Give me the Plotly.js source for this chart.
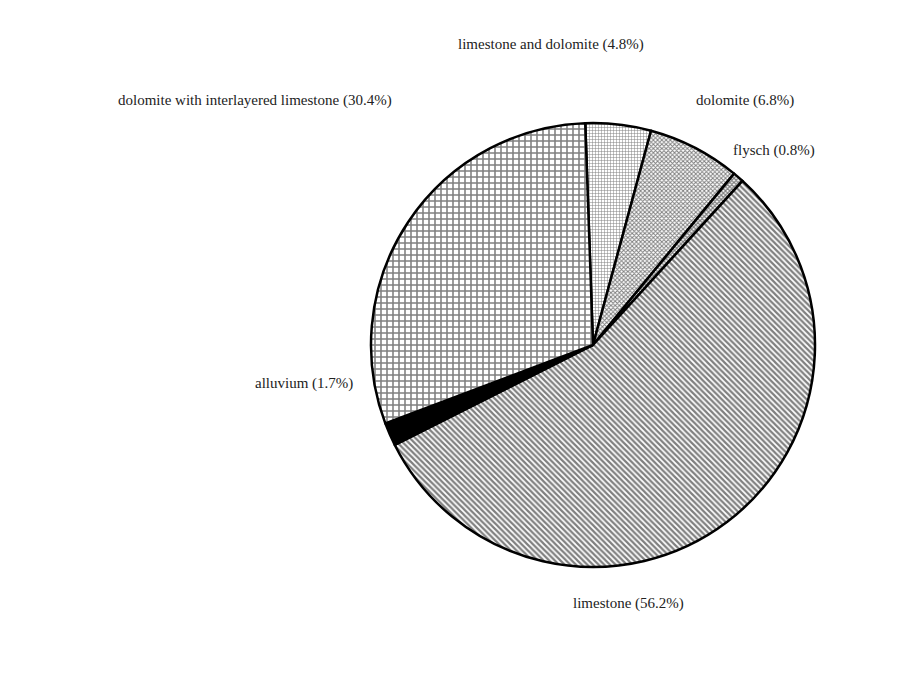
<!DOCTYPE html>
<html>
<head>
<meta charset="utf-8">
<script src="https://cdn.plot.ly/plotly-3.0.1.min.js"></script>
<style>
  html, body { margin: 0; padding: 0; background: #fff; }
  #chart { width: 917px; height: 680px; }
</style>
</head>
<body>
<div id="chart"></div>
<script>
// rock types, clockwise from 12 o'clock
var rockTypes = ['limestone and dolomite', 'dolomite', 'flysch', 'limestone', 'alluvium', 'dolomite with interlayered limestone'];
var sharePct = [4.8, 6.8, 0.8, 56.2, 1.7, 30.4];

// hatch style per slice
var hatchShapes = ['+', 'x', 'x', '\\', '', '+'];
var hatchSizes = [3, 3, 3, 4, 6, 6];
var hatchSolidity = [0.3, 0.55, 0.65, 0.55, 0.3, 0.45];
var sliceColors = ['#fff', '#fff', '#fff', '#fff', '#000', '#fff'];

// where each label sits (paper coords)
var labelX = [551, 745, 774, 628, 304, 255];
var labelY = [45, 100, 150, 603, 383, 100];

var W = 917, H = 680;

var trace = {
    type: 'pie',
    labels: rockTypes,
    values: sharePct,
    sort: false,
    direction: 'clockwise',
    rotation: -2,
    textinfo: 'none',
    hoverinfo: 'label+value',
    showlegend: false,
    marker: {
        colors: sliceColors,
        line: { color: '#000', width: 2.5 },
        pattern: {
            shape: hatchShapes,
            size: hatchSizes,
            solidity: hatchSolidity,
            fgcolor: '#000',
            fillmode: 'overlay'
        }
    },
    domain: {
        x: [(593 - 222) / W, (593 + 222) / W],
        y: [(H - 345 - 222) / H, (H - 345 + 222) / H]
    }
};

var annotations = rockTypes.map(function(name, i) {
    return {
        text: name + ' (' + sharePct[i].toFixed(1) + '%)',
        x: labelX[i] / W,
        y: 1 - labelY[i] / H,
        xref: 'paper',
        yref: 'paper',
        xanchor: 'center',
        yanchor: 'middle',
        showarrow: false,
        font: { family: 'Liberation Serif, Times New Roman, serif', size: 15, color: '#222' }
    };
});

var layout = {
    width: W,
    height: H,
    margin: { l: 0, r: 0, t: 0, b: 0 },
    paper_bgcolor: '#fff',
    annotations: annotations
};

Plotly.newPlot('chart', [trace], layout, { displayModeBar: false });
</script>
</body>
</html>
